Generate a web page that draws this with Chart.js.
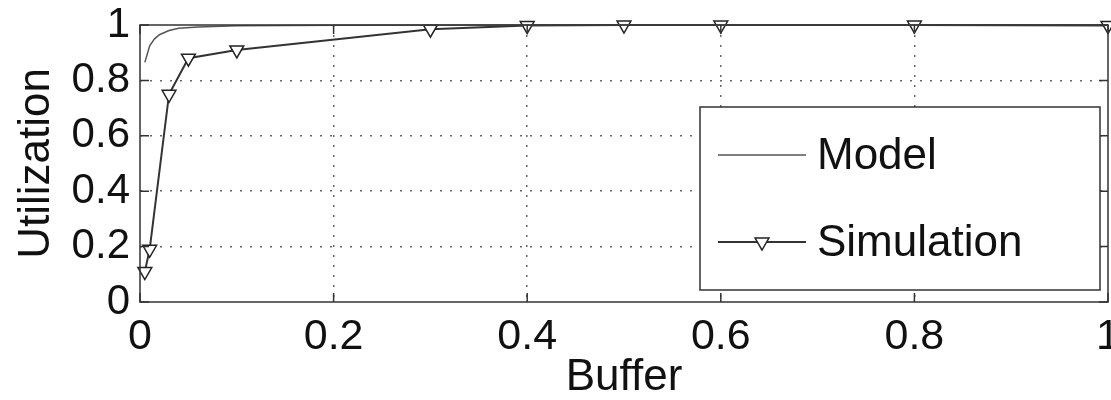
<!DOCTYPE html>
<html>
<head>
<meta charset="utf-8">
<title>Utilization vs Buffer</title>
<script src="https://cdn.jsdelivr.net/npm/chart.js@4/dist/chart.umd.min.js"></script>
<style>
    html, body { margin: 0; padding: 0; background: #fff; }
    #wrap { width: 1111px; height: 400px; }
</style>
</head>
<body>
<div id="wrap"><canvas id="utilChart" width="1111" height="400"></canvas></div>
<script>
// Model curve (buffer, utilization)
const modelX = [0.005, 0.01, 0.015, 0.02, 0.03, 0.04, 0.06, 0.1, 0.2, 0.4, 1.0];
const modelY = [0.865, 0.925, 0.95, 0.965, 0.98, 0.988, 0.993, 0.997, 0.999, 1.0, 1.0];

// Simulation results
const simX = [0.005, 0.01, 0.03, 0.05, 0.1, 0.3, 0.4, 0.5, 0.6, 0.8, 1.0];
const simY = [0.11, 0.19, 0.75, 0.88, 0.91, 0.985, 0.998, 1.0, 1.0, 1.0, 0.998];

const tickValues = [0, 0.2, 0.4, 0.6, 0.8, 1];
const seriesLabels = ['Model', 'Simulation'];

const FONT = '"Liberation Sans", Arial, sans-serif';

const toPoints = (xs, ys) => xs.map((x, i) => ({ x: x, y: ys[i] }));

// inner grid lines only, dotted
const gridColor = c => (c.tick.value > 0 && c.tick.value < 1) ? '#666' : 'rgba(0,0,0,0)';

// Box around the axes with inward tick marks on all four sides
const axesBox = {
    id: 'axesBox',
    afterDatasetsDraw(chart) {
        const { ctx, chartArea: a, scales } = chart;
        const len = 9;
        ctx.save();
        ctx.strokeStyle = '#333';
        ctx.lineWidth = 1.5;
        ctx.strokeRect(a.left, a.top, a.right - a.left, a.bottom - a.top);
        ctx.beginPath();
        tickValues.forEach(v => {
            const px = scales.x.getPixelForValue(v);
            const py = scales.y.getPixelForValue(v);
            ctx.moveTo(px, a.bottom); ctx.lineTo(px, a.bottom - len);
            ctx.moveTo(px, a.top); ctx.lineTo(px, a.top + len);
            ctx.moveTo(a.left, py); ctx.lineTo(a.left + len, py);
            ctx.moveTo(a.right, py); ctx.lineTo(a.right - len, py);
        });
        ctx.stroke();
        ctx.restore();
    }
};

// Boxed legend in the lower right of the plot
const boxLegend = {
    id: 'boxLegend',
    afterDraw(chart) {
        const { ctx } = chart;
        const bx = 700, by = 107, bw = 400, bh = 183;
        ctx.save();
        ctx.fillStyle = '#fff';
        ctx.fillRect(bx, by, bw, bh);
        ctx.strokeStyle = '#333';
        ctx.lineWidth = 1.5;
        ctx.strokeRect(bx, by, bw, bh);

        const rows = [155, 242];
        chart.data.datasets.forEach((ds, i) => {
            const y = rows[i];
            ctx.strokeStyle = ds.borderColor;
            ctx.lineWidth = ds.borderWidth;
            ctx.beginPath();
            ctx.moveTo(718, y);
            ctx.lineTo(806, y);
            ctx.stroke();
            if (ds.pointRadius > 0) {
                ctx.fillStyle = ds.pointBackgroundColor;
                ctx.strokeStyle = ds.pointBorderColor;
                ctx.lineWidth = ds.pointBorderWidth;
                Chart.helpers.drawPoint(ctx, {
                    pointStyle: ds.pointStyle,
                    rotation: ds.pointRotation,
                    radius: ds.pointRadius,
                    borderWidth: ds.pointBorderWidth
                }, 762, y);
            }
            ctx.fillStyle = '#111';
            ctx.font = '44px ' + FONT;
            ctx.textBaseline = 'middle';
            ctx.textAlign = 'left';
            ctx.fillText(ds.label, 817, y + 2);
        });
        ctx.restore();
    }
};

const ctx = document.getElementById('utilChart').getContext('2d');

const utilChart = new Chart(ctx, {
    type: 'line',
    data: {
        datasets: [{
            label: seriesLabels[0],
            data: toPoints(modelX, modelY),
            borderColor: '#555',
            borderWidth: 1.5,
            pointRadius: 0,
            tension: 0,
            fill: false
        }, {
            label: seriesLabels[1],
            data: toPoints(simX, simY),
            borderColor: '#333',
            borderWidth: 2,
            pointStyle: 'triangle',
            pointRotation: 180,
            pointRadius: 8,
            pointBorderWidth: 1.5,
            pointBorderColor: '#222',
            pointBackgroundColor: '#fff',
            tension: 0,
            fill: false
        }]
    },
    options: {
        responsive: false,
        animation: false,
        clip: false,
        layout: {
            autoPadding: false,
            padding: { top: 25, right: 3, left: 0, bottom: 0 }
        },
        plugins: {
            legend: { display: false },
            tooltip: { enabled: false }
        },
        scales: {
            x: {
                type: 'linear',
                min: 0,
                max: 1,
                afterFit: s => {
                    s.height = 98;
                    s.paddingLeft = 0;
                    s.paddingRight = 0;
                },
                afterBuildTicks: s => { s.ticks = tickValues.map(v => ({ value: v })); },
                border: { display: false, dash: [2, 8] },
                grid: { drawTicks: false, color: gridColor, lineWidth: 1.5 },
                ticks: {
                    autoSkip: false,
                    padding: 9,
                    maxRotation: 0,
                    color: '#111',
                    font: { family: FONT, size: 43 },
                    callback: v => String(v)
                },
                title: {
                    display: true,
                    text: 'Buffer',
                    color: '#111',
                    font: { family: FONT, size: 44 },
                    padding: { top: 0, bottom: -4 }
                }
            },
            y: {
                type: 'linear',
                min: 0,
                max: 1,
                afterFit: s => {
                    s.width = 140;
                    s.paddingTop = 0;
                    s.paddingBottom = 0;
                },
                afterBuildTicks: s => { s.ticks = tickValues.map(v => ({ value: v })); },
                border: { display: false, dash: [2, 8] },
                grid: { drawTicks: false, color: gridColor, lineWidth: 1.5 },
                ticks: {
                    autoSkip: false,
                    padding: 10,
                    color: '#111',
                    font: { family: FONT, size: 42 },
                    callback: v => String(v)
                },
                title: {
                    display: true,
                    text: 'Utilization',
                    color: '#111',
                    font: { family: FONT, size: 44 },
                    padding: { top: 10, bottom: 0 }
                }
            }
        }
    },
    plugins: [axesBox, boxLegend]
});
</script>
</body>
</html>
